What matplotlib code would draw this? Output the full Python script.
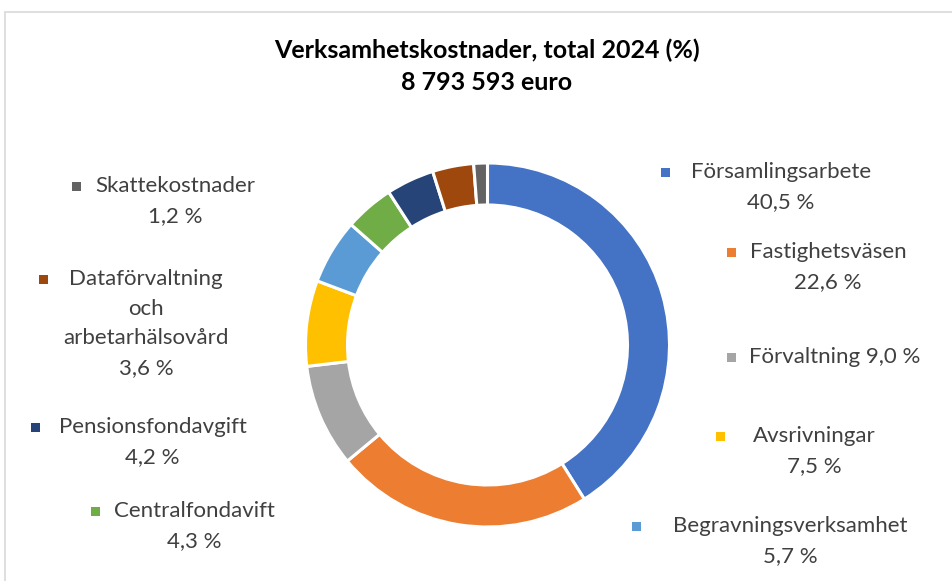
import matplotlib
matplotlib.use("Agg")
import matplotlib.pyplot as plt
from matplotlib.patches import Rectangle

# ---- data ----
categories = ["Församlingsarbete", "Fastighetsväsen", "Förvaltning", "Avsrivningar",
              "Begravningsverksamhet", "Centralfondavift", "Pensionsfondavgift",
              "Dataförvaltning och arbetarhälsovård", "Skattekostnader"]
values = [40.5, 22.6, 9.0, 7.5, 5.7, 4.3, 4.2, 3.6, 1.2]
colors = ["#4472C4", "#ED7D31", "#A5A5A5", "#FFC000", "#5B9BD5",
          "#70AD47", "#264478", "#9E480E", "#636363"]
title_lines = ["Verksamhetskostnader, total 2024 (%)", "8 793 593 euro"]

# ---- layout (pixel coordinates, y from top) ----
W, H = 953, 581
# label block: (text-center x, first-line y, marker x, line split of name, value on same line)
label_layout = [
    (781, 172, 666, ["Församlingsarbete"], False),
    (828, 252, 732, ["Fastighetsväsen"], False),
    (835, 357, 732, ["Förvaltning"], True),
    (814, 436, 721, ["Avsrivningar"], False),
    (790, 526, 637, ["Begravningsverksamhet"], False),
    (194, 511, 95.5, ["Centralfondavift"], False),
    (152.5, 427, 36, ["Pensionsfondavgift"], False),
    (146, 279, 43.5, ["Dataförvaltning", "och", "arbetarhälsovård"], False),
    (175.5, 186, 77, ["Skattekostnader"], False),
]
line_step = 29.7

fig = plt.figure(figsize=(W / 100, H / 100), dpi=100)
ax = fig.add_axes([0, 0, 1, 1])

def Y(y):
    return H - y

# donut
cx, cy, R = 487.5, 345, 182
ax.pie(values, colors=colors, startangle=90, counterclock=False,
       center=(cx, Y(cy)), radius=R, normalize=True,
       wedgeprops=dict(width=42, edgecolor="white", linewidth=2.2), frame=True)
ax.set_xlim(0, W)
ax.set_ylim(0, H)
ax.set_aspect("auto")
ax.axis("off")

# chart border
ax.add_patch(Rectangle((5, Y(H + 10)), W + 10, H + 10 - 12, fill=False,
                       edgecolor="#D9D9D9", linewidth=1.2))

font = "Lato"
txt_color = "#404040"

ax.text(487, Y(50), title_lines[0], ha="center", va="center", fontsize=18,
        fontweight="bold", family=font, color="black")
ax.text(487, Y(83), title_lines[1], ha="center", va="center", fontsize=18,
        fontweight="bold", family=font, color="black")

for (name, val, col, lay) in zip(categories, values, colors, label_layout):
    tx, ty, mx, parts, same_line = lay
    vtxt = f"{val:.1f} %".replace(".", ",")
    if same_line:
        lines = [parts[0] + " " + vtxt]
    else:
        lines = parts + [vtxt]
    for i, ln in enumerate(lines):
        ax.text(tx, Y(ty + i * line_step), ln, ha="center", va="center",
                fontsize=16, family=font, color=txt_color)
    ax.add_patch(Rectangle((mx - 4.5, Y(ty) - 4.5), 9, 9, facecolor=col,
                           edgecolor="none"))

fig.savefig("out.png", dpi=100)
